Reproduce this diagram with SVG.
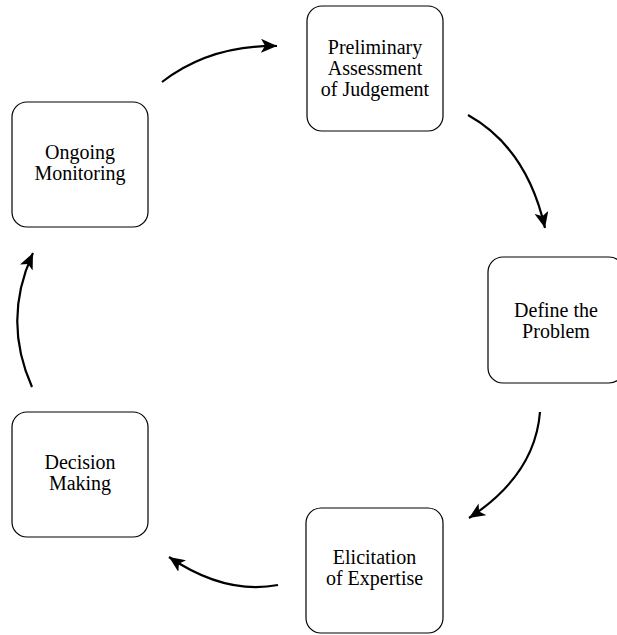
<svg xmlns="http://www.w3.org/2000/svg" width="617" height="635" viewBox="0 0 617 635">
<defs>
<style>
.box{fill:#fff;stroke:#000;stroke-width:1.2}
.lbl{font-family:"Liberation Serif","Times New Roman",serif;font-size:20px;fill:#000;text-anchor:middle}
.edge{fill:none;stroke:#000;stroke-width:2.2;marker-end:url(#ah)}
</style>
<marker id="ah" markerUnits="userSpaceOnUse" markerWidth="17" markerHeight="14" refX="16" refY="7" orient="auto">
<path d="M0,0 L16,7 L0,14 L4,7 z" fill="#000"/>
</marker>
</defs>
<g id="edges">
<path class="edge" d="M162,82 Q210,45 277,46"/>
<path class="edge" d="M468,115 Q527,148 545,228"/>
<path class="edge" d="M540,412 Q535,475 469,518"/>
<path class="edge" d="M278,585 Q225,595 169,557"/>
<path class="edge" d="M32,387 Q2,320 33,253"/>
</g>
<g id="n-prelim">
<rect class="box" x="307" y="6" width="136" height="125" rx="15"/>
<text class="lbl"><tspan x="375" y="54">Preliminary</tspan><tspan x="375" y="75">Assessment</tspan><tspan x="375" y="96">of Judgement</tspan></text>
</g>
<g id="n-define">
<rect class="box" x="488" y="257" width="136" height="126" rx="15"/>
<text class="lbl"><tspan x="556" y="317">Define the</tspan><tspan x="556" y="338">Problem</tspan></text>
</g>
<g id="n-elicit">
<rect class="box" x="306" y="508" width="137" height="125" rx="15"/>
<text class="lbl"><tspan x="374.5" y="564">Elicitation</tspan><tspan x="374.5" y="585">of Expertise</tspan></text>
</g>
<g id="n-decision">
<rect class="box" x="12" y="412" width="136" height="125" rx="15"/>
<text class="lbl"><tspan x="80" y="469">Decision</tspan><tspan x="80" y="490">Making</tspan></text>
</g>
<g id="n-ongoing">
<rect class="box" x="12" y="102" width="136" height="125" rx="15"/>
<text class="lbl"><tspan x="80" y="159">Ongoing</tspan><tspan x="80" y="180">Monitoring</tspan></text>
</g>
</svg>
